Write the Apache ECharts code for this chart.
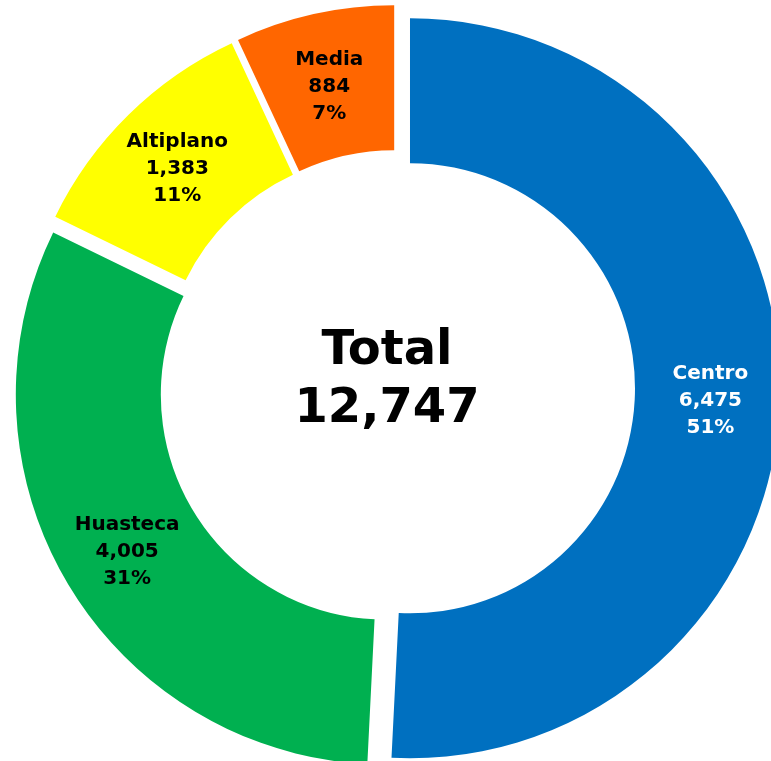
<!DOCTYPE html>
<html>
<head>
<meta charset="utf-8">
<script src="https://cdn.jsdelivr.net/npm/echarts@6/dist/echarts.min.js"></script>
<style>
  html, body { margin: 0; padding: 0; background: #fff; }
  #chart { width: 771px; height: 761px; }
</style>
</head>
<body>
<div id="chart"></div>
<script>
// regiones y valores
var regions = ["Centro", "Huasteca", "Altiplano", "Media"];
var values = [6475, 4005, 1383, 884];
var colors = ["#0070C0", "#00B050", "#FFFF00", "#FF6600"];
var labelColors = ["#ffffff", "#000000", "#000000", "#000000"];

var total = values.reduce(function (a, b) { return a + b; }, 0);

var fmt = function (n) {
  return n.toLocaleString("en-US");
};

var chart = echarts.init(document.getElementById("chart"));

var option = {
  animation: false,
  backgroundColor: "#ffffff",
  graphic: [
    {
      type: "text",
      x: 387,
      y: 381,
      style: {
        text: "Total\n" + fmt(total),
        fill: "#000",
        font: "bold 48px 'DejaVu Sans'",
        lineHeight: 58,
        align: "center",
        verticalAlign: "middle",
      },
    },
  ],
  series: [
    {
      type: "pie",
      center: [397, 388],
      radius: [225, 370],
      startAngle: 90,
      clockwise: true,
      selectedMode: "multiple",
      selectedOffset: 13,
      silent: true,
      avoidLabelOverlap: false,
      itemStyle: { borderWidth: 0 },
      select: { itemStyle: { borderWidth: 0 } },
      label: {
        show: true,
        position: "inside",
        fontFamily: "DejaVu Sans",
        fontWeight: "bold",
        fontSize: 20,
        lineHeight: 27,
        align: "center",
        rich: {
          gap: { fontSize: 8, lineHeight: 9 },
        },
        formatter: function (p) {
          return "{gap| }\n" + p.name + "\n" + fmt(p.value) + "\n" + Math.round(p.percent) + "%";
        },
      },
      labelLine: { show: false },
      data: regions.map(function (r, i) {
        return {
          name: r,
          value: values[i],
          selected: true,
          itemStyle: { color: colors[i] },
          label: { color: labelColors[i] },
        };
      }),
    },
  ],
};

chart.setOption(option);
</script>
</body>
</html>
